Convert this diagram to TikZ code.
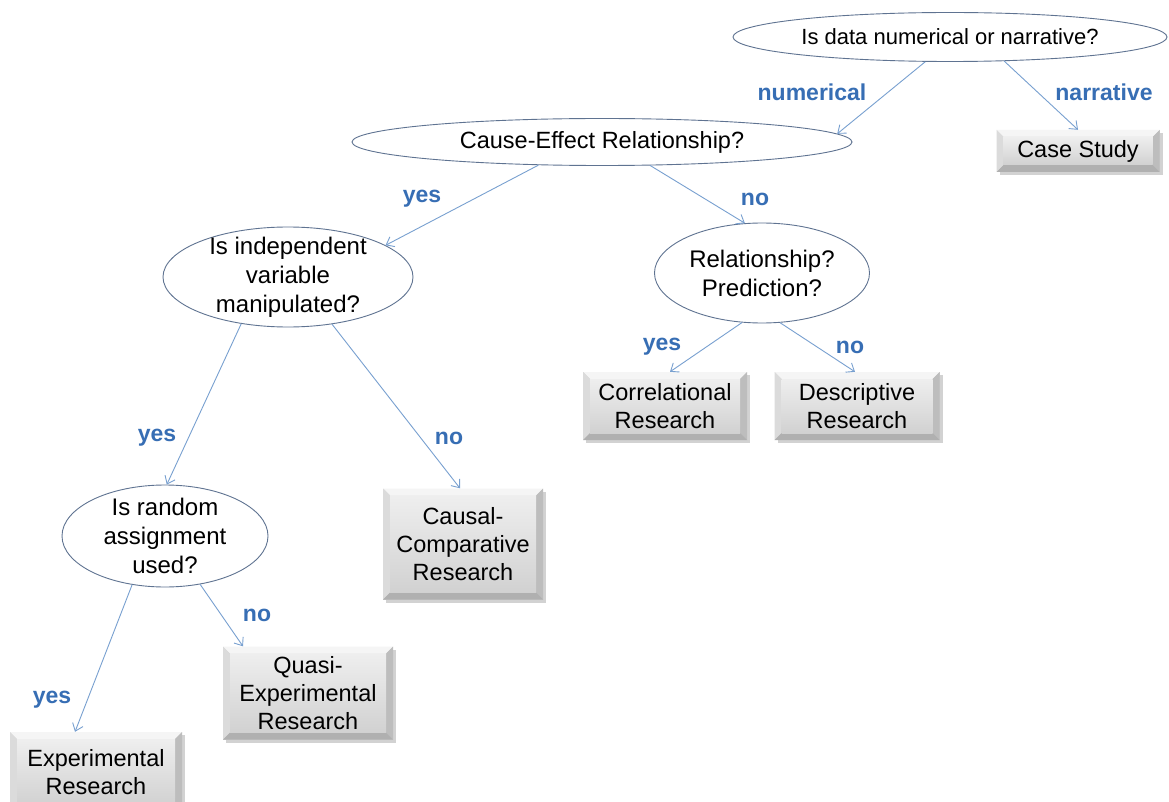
\documentclass[tikz,border=0pt]{standalone}
\usepackage{fontspec}
\setmainfont{Liberation Sans}
\usetikzlibrary{shapes.geometric,arrows.meta,shadows}

\definecolor{qline}{RGB}{95,115,145}
\definecolor{conn}{RGB}{120,160,208}
\definecolor{lbl}{RGB}{55,110,180}

% bevelled face of an answer box
\newcommand\bevelface{%
  \path (path picture bounding box.north west) coordinate (bnw)
        (path picture bounding box.north east) coordinate (bne)
        (path picture bounding box.south west) coordinate (bsw)
        (path picture bounding box.south east) coordinate (bse);
  \path ([shift={(7pt,-7pt)}]bnw) coordinate (inw)
        ([shift={(-7pt,-7pt)}]bne) coordinate (ine)
        ([shift={(7pt,7pt)}]bsw) coordinate (isw)
        ([shift={(-7pt,7pt)}]bse) coordinate (ise);
  \fill[gray!8]  (bnw) -- (bne) -- (ine) -- (inw) -- cycle;
  \fill[gray!28] (bnw) -- (inw) -- (isw) -- (bsw) -- cycle;
  \fill[gray!52] (bne) -- (bse) -- (ise) -- (ine) -- cycle;
  \fill[gray!62] (bsw) -- (bse) -- (ise) -- (isw) -- cycle;
  \shade[top color=gray!13, bottom color=gray!36] (inw) rectangle (ise);
}

\tikzset{
  question/.style={ellipse, draw=qline, line width=0.9pt, fill=white,
    inner xsep=0pt, inner ysep=-5pt, align=center,
    font=\fontsize{24}{29}\selectfont},
  answer/.style={rectangle, inner sep=0pt, align=center, fill=gray!40,
    font=\fontsize{23.5}{28}\selectfont,
    drop shadow={shadow xshift=3pt, shadow yshift=-3pt, opacity=0.35},
    path picture={\bevelface}},
  link/.style={draw=conn, line width=0.9pt,
    -{Straight Barb[length=7pt,width=11pt,line width=0.9pt]}},
  branch/.style={font=\bfseries\fontsize{23}{23}\selectfont, text=lbl,
    inner sep=0pt},
}

\begin{document}
\begin{tikzpicture}[x=1pt,y=-1pt]
\useasboundingbox[fill=white] (0,0) rectangle (1169,802);

% questions
\node[question, minimum width=434pt, minimum height=49pt, font=\fontsize{22}{26}\selectfont]
  (q1) at (950,37) {Is data numerical or narrative?};
\node[question, minimum width=500pt, minimum height=47pt, font=\fontsize{23.5}{28}\selectfont]
  (q2) at (602,142) {Cause-Effect Relationship?};
\node[question, minimum width=250pt, minimum height=100pt]
  (q3) at (288,277) {Is independent\\variable\\manipulated?};
\node[question, minimum width=215pt, minimum height=100pt]
  (q4) at (762,273) {Relationship?\\Prediction?};
\node[question, minimum width=206pt, minimum height=102pt]
  (q5) at (165,536) {Is random\\assignment\\used?};

% outcomes
\node[answer, minimum width=163pt, minimum height=42pt]
  (b1) at (1078,151) {Case Study};
\node[answer, minimum width=164pt, minimum height=68pt]
  (b2) at (665,406) {Correlational\\Research};
\node[answer, minimum width=165pt, minimum height=68pt]
  (b3) at (857,406) {Descriptive\\Research};
\node[answer, minimum width=160pt, minimum height=111pt]
  (b4) at (463,544) {Causal-\\Comparative\\Research};
\node[answer, minimum width=170pt, minimum height=93pt]
  (b5) at (308,693) {Quasi-\\Experimental\\Research};
\node[answer, minimum width=172pt, minimum height=80pt]
  (b6) at (96,772) {Experimental\\Research};

% connectors
\draw[link] (q1.225) -- (q2.2.2);
\draw[link] (q1.-24) -- (b1.north);
\draw[link] (q2.200) -- (q3.18);
\draw[link] (q2.-26) -- (q4.109);
\draw[link] (q3.225) -- (q5.88);
\draw[link] (q3.-47) -- ([xshift=-3pt]b4.north);
\draw[link] (q4.248) -- ([xshift=5pt]b2.north);
\draw[link] (q4.-70) -- ([xshift=-2pt]b3.north);
\draw[link] (q5.236) -- ([xshift=-21pt]b6.north);
\draw[link] (q5.-54) -- ([xshift=-65pt]b5.north);

% branch labels
\node[branch] (l1)  at (812,92)  {numerical};
\node[branch] (l2)  at (1104,92) {narrative};
\node[branch] (l3)  at (422,199) {yes};
\node[branch] (l4)  at (755,199) {no};
\node[branch] (l5)  at (157,438) {yes};
\node[branch] (l6)  at (449,438) {no};
\node[branch] (l7)  at (662,347) {yes};
\node[branch] (l8)  at (850,347) {no};
\node[branch] (l9)  at (257,615) {no};
\node[branch] (l10) at (52,700)  {yes};
\end{tikzpicture}
\end{document}
